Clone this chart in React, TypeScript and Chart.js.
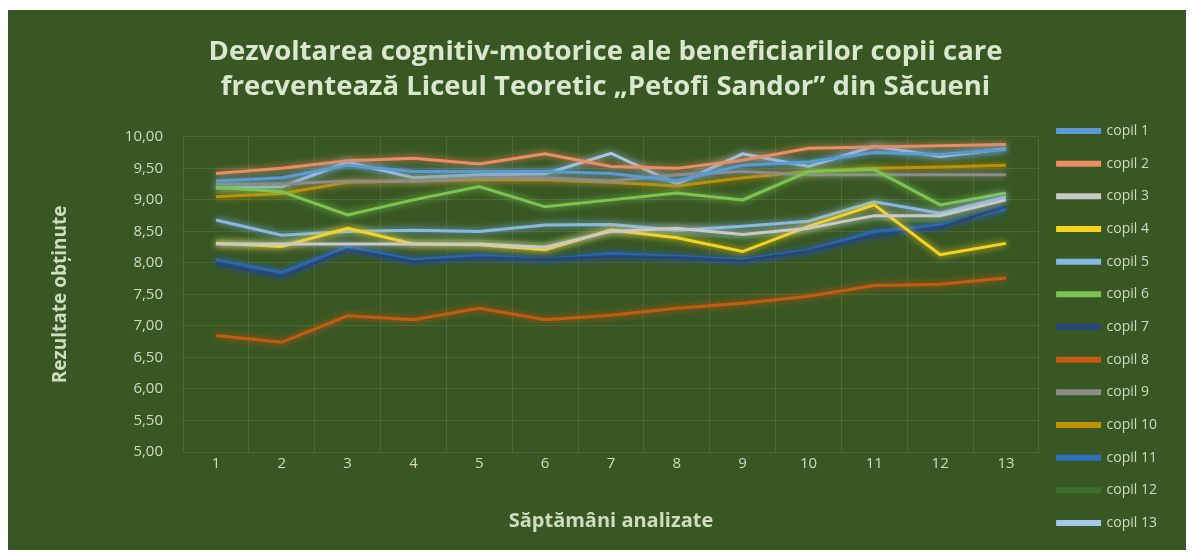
import React, { useEffect, useRef } from "react";
import { Chart, registerables } from "chart.js";

Chart.register(...registerables);

const weeks = ["1", "2", "3", "4", "5", "6", "7", "8", "9", "10", "11", "12", "13"];

const copil1 = [9.3, 9.35, 9.55, 9.45, 9.45, 9.45, 9.42, 9.3, 9.55, 9.6, 9.75, 9.72, 9.8];
const copil2 = [9.42, 9.5, 9.62, 9.66, 9.57, 9.73, 9.53, 9.5, 9.63, 9.82, 9.84, 9.86, 9.88];
const copil3 = [8.3, 8.3, 8.3, 8.3, 8.3, 8.25, 8.5, 8.55, 8.45, 8.55, 8.75, 8.75, 9.0];
const copil4 = [8.31, 8.26, 8.55, 8.3, 8.29, 8.21, 8.52, 8.4, 8.18, 8.58, 8.92, 8.13, 8.31];
const copil5 = [8.68, 8.44, 8.5, 8.52, 8.5, 8.6, 8.61, 8.52, 8.58, 8.66, 8.97, 8.79, 9.05];
const copil6 = [9.2, 9.13, 8.76, 9.0, 9.21, 8.89, 9.0, 9.11, 9.0, 9.45, 9.48, 8.92, 9.11];
const copil7 = [7.99, 7.78, 8.21, 8.02, 8.08, 8.05, 8.1, 8.08, 8.03, 8.18, 8.43, 8.56, 8.9];
const copil8 = [6.85, 6.74, 7.16, 7.1, 7.28, 7.1, 7.17, 7.28, 7.36, 7.47, 7.64, 7.66, 7.76];
const copil9 = [9.25, 9.25, 9.3, 9.3, 9.35, 9.35, 9.3, 9.4, 9.45, 9.4, 9.4, 9.4, 9.4];
const copil10 = [9.05, 9.1, 9.28, 9.3, 9.32, 9.32, 9.28, 9.22, 9.35, 9.45, 9.5, 9.52, 9.55];
const copil11 = [8.05, 7.85, 8.25, 8.05, 8.12, 8.05, 8.15, 8.1, 8.05, 8.2, 8.5, 8.6, 8.85];
const copil12 = [8.35, 8.3, 8.55, 8.35, 8.35, 8.3, 8.5, 8.45, 8.4, 8.5, 8.7, 8.65, 8.9];
const copil13 = [9.19, 9.21, 9.6, 9.35, 9.4, 9.41, 9.74, 9.25, 9.73, 9.53, 9.85, 9.69, 9.81];

const seriesNames = [
  "copil 1", "copil 2", "copil 3", "copil 4", "copil 5", "copil 6", "copil 7",
  "copil 8", "copil 9", "copil 10", "copil 11", "copil 12", "copil 13",
];
const seriesValues = [
  copil1, copil2, copil3, copil4, copil5, copil6, copil7,
  copil8, copil9, copil10, copil11, copil12, copil13,
];
const seriesColors = [
  "#5b9bd5", "#ee8c63", "#c9c9c9", "#f7d320", "#86b8e4", "#7cc451", "#26467e",
  "#c55a11", "#8c8c8c", "#bf9000", "#2e6fc0", "#3e6e2c", "#a4c8ea",
];

const titleLines = [
  "Dezvoltarea cognitiv-motorice ale beneficiarilor copii care",
  "frecventează Liceul Teoretic „Petofi Sandor” din Săcueni",
];
const yTitle = "Rezultate obținute";
const xTitle = "Săptămâni analizate";

const BG = "#385723";
const TEXT = "#cfdcc2";
const FONT = "'Open Sans', Lato, sans-serif";

const glowPlugin = {
  id: "glow",
  beforeDatasetDraw(chart: any, args: any) {
    const ds = chart.data.datasets[args.index];
    const ctx = chart.ctx;
    ctx.save();
    ctx.shadowColor = ds.borderColor;
    ctx.shadowBlur = 7;
  },
  afterDatasetDraw(chart: any) {
    chart.ctx.restore();
  },
};

export default function App() {
  const ref = useRef<HTMLCanvasElement | null>(null);

  useEffect(() => {
    if (!ref.current) return;
    const chart = new Chart(ref.current, {
      type: "line",
      data: {
        labels: weeks,
        datasets: seriesNames.map((name, i) => ({
          label: name,
          data: seriesValues[i],
          borderColor: seriesColors[i],
          backgroundColor: seriesColors[i],
          borderWidth: 3,
          pointRadius: 0,
          tension: 0,
          fill: false,
        })),
      },
      plugins: [glowPlugin],
      options: {
        responsive: false,
        animation: false,
        layout: { padding: { left: 36, right: 21, top: 8, bottom: 0 } },
        plugins: {
          title: {
            display: true,
            text: titleLines,
            color: "#dbe6cf",
            font: { family: FONT, size: 27.5, weight: "bold", lineHeight: 1.27 },
            padding: { top: 16.5, bottom: 32.5 },
          },
          legend: {
            position: "right",
            align: "start",
            title: {
              display: true,
              text: " ",
              font: { size: 12, lineHeight: 1.2 },
              padding: { top: 72.9, bottom: 0 },
            },
            labels: {
              color: TEXT,
              font: { family: FONT, size: 14 },
              boxWidth: 42,
              boxHeight: 3,
              padding: 18.67,
            },
          },
          tooltip: { enabled: false },
        },
        scales: {
          x: {
            offset: true,
            afterFit: (s: any) => {
              s.height = 98;
            },
            grid: { offset: true, color: "rgba(255,255,255,0.10)", drawTicks: false },
            border: { display: false },
            ticks: { color: TEXT, font: { family: FONT, size: 15 }, padding: 3 },
            title: {
              display: true,
              text: xTitle,
              color: TEXT,
              font: { family: FONT, size: 20, weight: "bold" },
              padding: { top: 0, bottom: 17 },
            },
          },
          y: {
            min: 5,
            max: 10,
            afterFit: (s: any) => {
              s.width = 139;
            },
            grid: { color: "rgba(255,255,255,0.10)", drawTicks: false },
            border: { display: false },
            ticks: {
              stepSize: 0.5,
              color: TEXT,
              font: { family: FONT, size: 15 },
              padding: 20,
              callback: (v: any) => Number(v).toFixed(2).replace(".", ","),
            },
            title: {
              display: true,
              text: yTitle,
              color: TEXT,
              font: { family: FONT, size: 19, weight: "bold" },
              padding: { top: 5, bottom: 0 },
            },
          },
        },
      },
    });
    return () => chart.destroy();
  }, []);

  return (
    <div style={{ width: 1180, height: 540, background: BG, marginTop: 2 }}>
      <canvas ref={ref} width={1180} height={540} style={{ display: "block" }} />
    </div>
  );
}
